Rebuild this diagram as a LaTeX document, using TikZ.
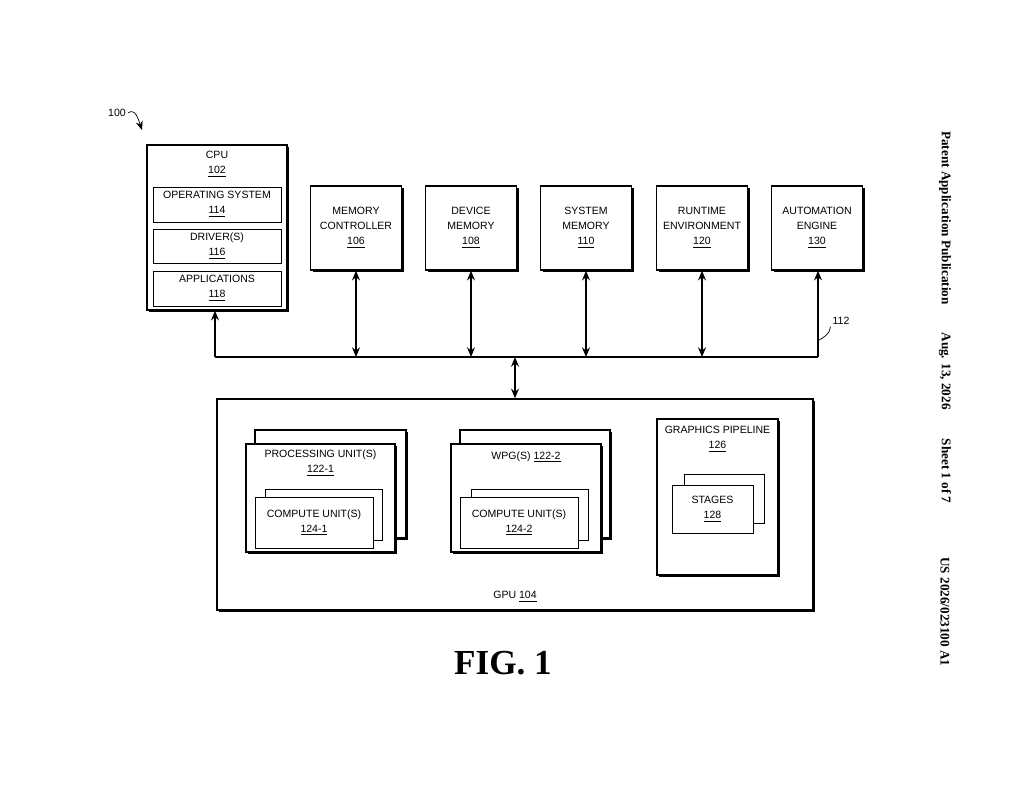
\documentclass[tikz,border=0pt]{standalone}
\usepackage{fontspec}
\setmainfont{Liberation Sans}
\newfontfamily\serifbold{Liberation Serif}
\usetikzlibrary{shadows,arrows.meta}
\newcommand{\num}[1]{\underline{#1}}

\begin{document}
\begin{tikzpicture}[x=0.02cm,y=-0.02cm]
\tikzset{box/.style={draw,thick,fill=white,align=center,inner sep=0pt,
                     font=\fontsize{6}{8.5}\selectfont,
                     drop shadow={shadow xshift=1.3pt,shadow yshift=-1.3pt,fill=black,opacity=1}},
         flat/.style={draw,fill=white,align=center,inner sep=0pt,
                      font=\fontsize{6}{8.5}\selectfont},
         lbl/.style={font=\fontsize{6}{8.5}\selectfont,align=center},
         link/.style={thick,-{Stealth[length=5.5pt,width=4.5pt]}},
         both/.style={thick,{Stealth[length=5.5pt,width=4.5pt]}-{Stealth[length=5.5pt,width=4.5pt]}}
        }
\useasboundingbox (0,0) rectangle (1024,794);

% cpu
\node[box,minimum width=140*0.02cm,minimum height=165*0.02cm] (cpu) at (217,227.5) {};
\node[lbl] at (217,164) {CPU\\\num{102}};
\node[flat,minimum width=128*0.02cm,minimum height=35*0.02cm] (os) at (217,204.5) {OPERATING SYSTEM\\\num{114}};
\node[flat,minimum width=128*0.02cm,minimum height=34*0.02cm] (drv) at (217,246) {DRIVER(S)\\\num{116}};
\node[flat,minimum width=128*0.02cm,minimum height=35*0.02cm] (app) at (217,288.5) {APPLICATIONS\\\num{118}};

% memory and friends
\foreach \x/\name/\txt in {356/mc/{MEMORY\\CONTROLLER\\\num{106}},
                           471/dm/{DEVICE\\MEMORY\\\num{108}},
                           586/sm/{SYSTEM\\MEMORY\\\num{110}},
                           702/rt/{RUNTIME\\ENVIRONMENT\\\num{120}},
                           817/ae/{AUTOMATION\\ENGINE\\\num{130}}}
  \node[box,minimum width=91*0.02cm,minimum height=84*0.02cm] (\name) at (\x,228) {\txt};

% bus
\coordinate (busL) at (215,357);
\coordinate (busR) at (818,357);
\coordinate (busG) at (515,357);
\draw[thick] (busL) -- (busR);
\draw[link] (busL) -- (busL |- cpu.south);
\draw[link] (busR) -- (busR |- ae.south);
\foreach \name in {mc,dm,sm,rt}
  \draw[both] (\name.south) -- (\name.south |- busL);

% gpu
\node[box,minimum width=596*0.02cm,minimum height=211*0.02cm] (gpu) at (515,504.5) {};
\node[lbl] (gpul) at (515,597) {GPU \num{104}};
\draw[both] (busG) -- (busG |- gpu.north);

% processing units
\node[box,minimum width=151*0.02cm,minimum height=108*0.02cm] (pub) at (330.5,484) {};
\node[box,minimum width=149*0.02cm,minimum height=108*0.02cm] (pu) at (320.5,498) {};
\node[lbl] at (320.5,463) {PROCESSING UNIT(S)\\\num{122-1}};
\node[flat,minimum width=117*0.02cm,minimum height=51*0.02cm] (cub1) at (323.5,514.5) {};
\node[flat,minimum width=118*0.02cm,minimum height=51*0.02cm] (cu1) at (314,522.5) {COMPUTE UNIT(S)\\\num{124-1}};

% wpgs
\node[box,minimum width=150*0.02cm,minimum height=108*0.02cm] (wpb) at (535,484) {};
\node[box,minimum width=150*0.02cm,minimum height=108*0.02cm] (wp) at (526,498) {};
\node[lbl] at (526,457) {WPG(S) \num{122-2}};
\node[flat,minimum width=117*0.02cm,minimum height=51*0.02cm] (cub2) at (529.5,514.5) {};
\node[flat,minimum width=118*0.02cm,minimum height=51*0.02cm] (cu2) at (519,522.5) {COMPUTE UNIT(S)\\\num{124-2}};

% graphics pipeline
\node[box,minimum width=121*0.02cm,minimum height=156*0.02cm] (gp) at (717.5,497) {};
\node[lbl] at (717.5,439) {GRAPHICS PIPELINE\\\num{126}};
\node[flat,minimum width=80*0.02cm,minimum height=49*0.02cm] (stb) at (724,498.5) {};
\node[flat,minimum width=81*0.02cm,minimum height=48*0.02cm] (st) at (712.5,509) {STAGES\\\num{128}};

% reference labels
\node[lbl,inner sep=1pt] (ref100) at (117,113) {100};
\coordinate (tip100) at (142,130);
\draw[-{Stealth[length=5pt,width=4pt]}] (ref100.east) .. controls (135,108) and (138,118) .. (tip100);
\node[lbl,inner sep=1pt] (ref112) at (841,321) {112};
\coordinate (bus112) at (819,340);
\draw (ref112.south west) .. controls (830,334) and (823,338) .. (bus112);

\node[font=\serifbold\bfseries\fontsize{20}{24}\selectfont] (fig) at (503,663) {FIG. 1};

% margin
\begin{scope}[font=\serifbold\bfseries\fontsize{7.5}{9}\selectfont]
\node[rotate=-90] (hd1) at (945,218) {Patent Application Publication};
\node[rotate=-90] (hd2) at (945,418) {Aug. 13, 2026\hspace{2.2em}Sheet 1 of 7};
\node[rotate=-90] (hd3) at (945,612) {US 2026/023100 A1};
\end{scope}
\end{tikzpicture}
\end{document}
